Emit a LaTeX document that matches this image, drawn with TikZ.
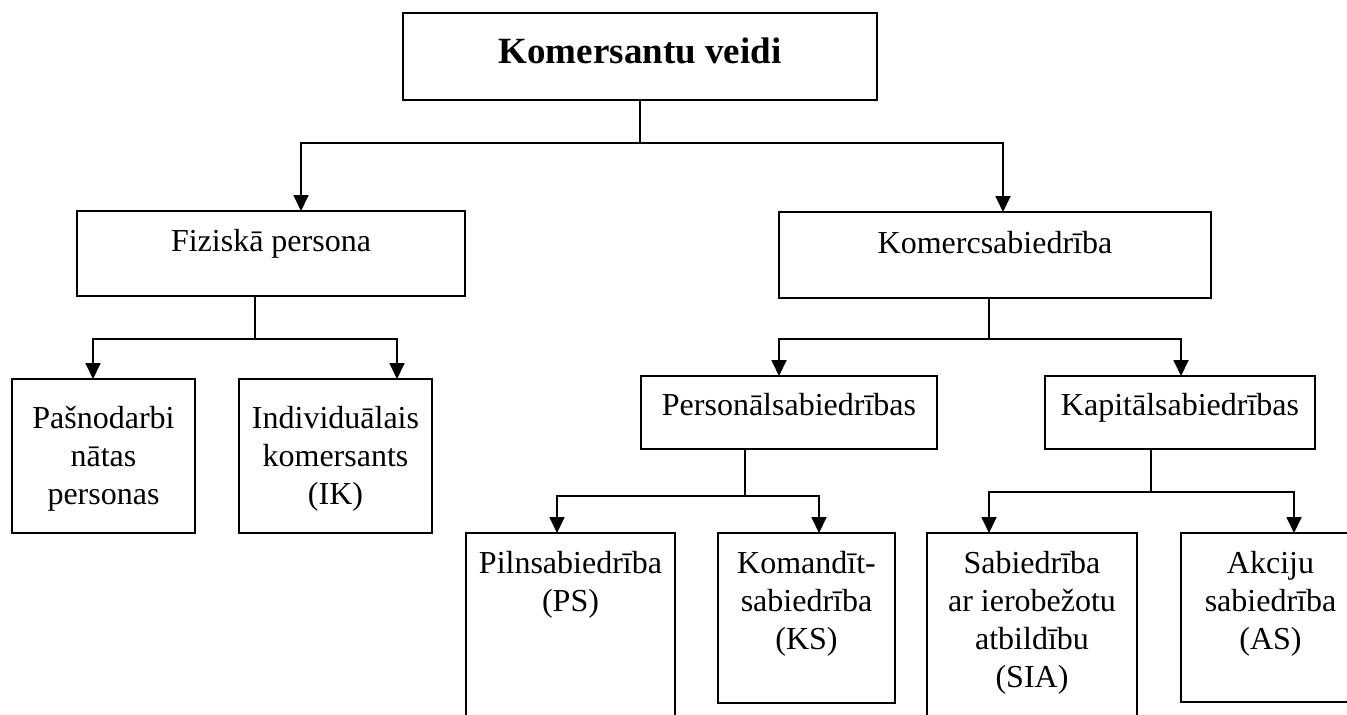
\documentclass[tikz,border=0pt]{standalone}
\usepackage{fontspec}
\setmainfont{Liberation Serif}
\usetikzlibrary{arrows.meta,calc}
\tikzset{
  box/.style={draw=black, line width=1.8pt, rectangle, inner sep=0pt, outer sep=0pt, anchor=north west},
  txt/.style={inner sep=0pt, align=center, font=\fontsize{32}{38}\selectfont},
  conn/.style={draw=black, line width=1.8pt},
  arr/.style={conn, -{Triangle[width=15pt,length=16pt]}},
}
\begin{document}
\begin{tikzpicture}[x=1pt,y=1pt]
\clip (0,0) rectangle (1347,-715);
\fill[white] (0,0) rectangle (1347,-715);
% boxes
\node[box, minimum width=474pt, minimum height=87pt] (top) at (403,-13) {};
\node[box, minimum width=388pt, minimum height=85pt] (fp) at (77,-211) {};
\node[box, minimum width=432pt, minimum height=86pt] (ks) at (779,-212) {};
\node[box, minimum width=183pt, minimum height=154pt] (pn) at (12,-379) {};
\node[box, minimum width=193pt, minimum height=154pt] (ik) at (239,-379) {};
\node[box, minimum width=296pt, minimum height=73pt] (ps) at (641,-376) {};
\node[box, minimum width=270pt, minimum height=73pt] (kap) at (1045,-376) {};
\node[box, minimum width=209pt, minimum height=200pt] (pil) at (466,-533) {};
\node[box, minimum width=177pt, minimum height=170pt] (kom) at (718,-533) {};
\node[box, minimum width=210pt, minimum height=200pt] (sia) at (927,-533) {};
\node[box, minimum width=179pt, minimum height=169pt] (ak) at (1181,-533) {};
% texts
\node[inner sep=0pt, anchor=base, font=\bfseries\fontsize{37}{44}\selectfont] (topt) at (640,-63) {Komersantu veidi};
\node[txt, anchor=base] (fpt) at (fp.north |- 0,-251) {Fiziskā persona};
\node[txt, anchor=base] (kst) at (ks.north |- 0,-253) {Komercsabiedrība};
\node[txt, anchor=base] (pst) at (ps.north |- 0,-415) {Personālsabiedrības};
\node[txt, anchor=base] (kapt) at (kap.north |- 0,-415) {Kapitālsabiedrības};
\node[txt, anchor=north] (pnt) at ($(pn.north |- 0,-428)+(0,26.6)$) {\strut Pašnodarbi\\nātas\\personas};
\node[txt, anchor=north] (ikt) at ($(ik.north |- 0,-428)+(0,26.6)$) {\strut Individuālais\\komersants\\(IK)};
\node[txt, anchor=north] (pilt) at ($(pil.north |- 0,-573)+(0,26.6)$) {\strut Pilnsabiedrība\\(PS)};
\node[txt, anchor=north] (komt) at ($(kom.north |- 0,-573)+(0,26.6)$) {\strut Komandīt-\\sabiedrība\\(KS)};
\node[txt, anchor=north] (siat) at ($(sia.north |- 0,-573)+(0,26.6)$) {\strut Sabiedrība\\ar ierobežotu\\atbildību\\(SIA)};
\node[txt, anchor=north] (akt) at ($(ak.north |- 0,-573)+(0,26.6)$) {\strut Akciju\\sabiedrība\\(AS)};
% junctions
\coordinate (j1) at (640,-143);
\coordinate (j2) at (255,-339);
\coordinate (j3) at (989,-339);
\coordinate (j4) at (745,-496);
\coordinate (j5) at (1151,-492);
% connectors
\draw[conn] (top.south) -- (j1);
\draw[arr] (j1) -| ([xshift=30pt]fp.north);
\draw[arr] (j1) -| ([xshift=8pt]ks.north);
\draw[conn] ([xshift=-16pt]fp.south) -- (j2);
\draw[arr] (j2) -| ([xshift=-10.5pt]pn.north);
\draw[arr] (j2) -| ([xshift=61.5pt]ik.north);
\draw[conn] ([xshift=-6pt]ks.south) -- (j3);
\draw[arr] (j3) -| ([xshift=-10pt]ps.north);
\draw[arr] (j3) -| ([xshift=1pt]kap.north);
\draw[conn] ([xshift=-44pt]ps.south) -- (j4);
\draw[arr] (j4) -| ([xshift=-13.5pt]pil.north);
\draw[arr] (j4) -| ([xshift=12.5pt]kom.north);
\draw[conn] ([xshift=-29pt]kap.south) -- (j5);
\draw[arr] (j5) -| ([xshift=-43pt]sia.north);
\draw[arr] (j5) -| ([xshift=23.5pt]ak.north);
\end{tikzpicture}
\end{document}
